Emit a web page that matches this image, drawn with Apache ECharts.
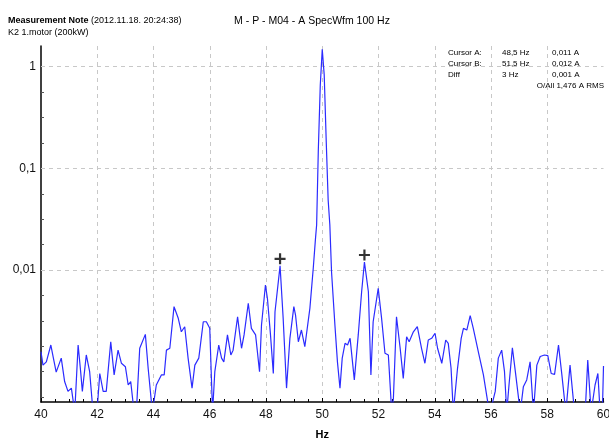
<!DOCTYPE html>
<html>
<head>
<meta charset="utf-8">
<script src="https://cdn.jsdelivr.net/npm/echarts@6/dist/echarts.min.js"></script>
<style>
  html, body { margin: 0; padding: 0; background: #fff; }
  #chart { width: 609px; height: 441px; }
</style>
</head>
<body>
<div id="chart"></div>
<script>
// spectrum: frequency (Hz) and amplitude (A RMS)
const freqs = [
  40.0, 40.07, 40.19, 40.35, 40.43, 40.54, 40.72, 40.84, 40.96, 41.08,
  41.2, 41.32, 41.41, 41.47, 41.61, 41.73, 41.85, 41.99, 42.09, 42.21,
  42.32, 42.48, 42.6, 42.74, 42.86, 43.0, 43.1, 43.19, 43.31, 43.39,
  43.51, 43.71, 43.81, 43.96, 44.1, 44.28, 44.38, 44.46, 44.58, 44.73,
  44.88, 44.99, 45.11, 45.23, 45.37, 45.47, 45.61, 45.77, 45.88, 46.0,
  46.1, 46.18, 46.32, 46.42, 46.5, 46.63, 46.75, 46.83, 46.99, 47.04,
  47.13, 47.22, 47.37, 47.48, 47.63, 47.77, 47.84, 47.98, 48.05, 48.16,
  48.26, 48.32, 48.5, 48.61, 48.73, 48.85, 48.99, 49.05, 49.15, 49.26,
  49.38, 49.56, 49.68, 49.76, 49.8, 49.86, 49.93, 50.0, 50.07, 50.14,
  50.21, 50.27, 50.33, 50.45, 50.54, 50.63, 50.71, 50.81, 50.9, 50.99,
  51.14, 51.28, 51.4, 51.5, 51.64, 51.73, 51.81, 51.99, 52.11, 52.23,
  52.35, 52.47, 52.53, 52.64, 52.77, 52.88, 53.0, 53.09, 53.24, 53.38,
  53.53, 53.65, 53.77, 53.89, 54.01, 54.1, 54.25, 54.39, 54.48, 54.58,
  54.66, 54.81, 54.94, 55.02, 55.14, 55.26, 55.37, 55.55, 55.73, 55.88,
  55.97, 56.15, 56.26, 56.38, 56.48, 56.56, 56.64, 56.76, 56.88, 57.04,
  57.15, 57.27, 57.39, 57.51, 57.63, 57.75, 57.9, 58.02, 58.14, 58.26,
  58.4, 58.52, 58.66, 58.81, 58.97, 59.35, 59.44, 59.56, 59.7, 59.8,
  59.88, 59.96, 60.0
];
const amps = [
  0.00157, 0.00116, 0.00125, 0.00183, 0.00141, 0.00099, 0.00136, 0.0008, 0.00064, 0.00069,
  0.0004, 0.00183, 0.001, 0.00064, 0.00146, 0.001, 0.0004, 0.0004, 0.00096, 0.00064,
  0.00064, 0.00197, 0.00093, 0.00163, 0.00121, 0.00112, 0.00074, 0.0008, 0.0004, 0.0004,
  0.0017, 0.00233, 0.00108, 0.0004, 0.00074, 0.00093, 0.00093, 0.00163, 0.0017, 0.00436,
  0.00335, 0.00247, 0.00277, 0.00136, 0.00069, 0.00116, 0.00136, 0.0031, 0.0031, 0.00267,
  0.0004, 0.001, 0.00183, 0.00136, 0.00125, 0.0023, 0.00146, 0.00163, 0.00347, 0.00267,
  0.0017, 0.0023, 0.00471, 0.00267, 0.0023, 0.001, 0.00288, 0.00712, 0.00527, 0.0023,
  0.00096, 0.00389, 0.011, 0.00335, 0.00069, 0.00213, 0.00436, 0.00361, 0.00197, 0.00257,
  0.00176, 0.0042, 0.0104, 0.0205, 0.0277, 0.151, 0.66, 1.48, 0.826, 0.19,
  0.0488, 0.0277, 0.0096, 0.00288, 0.00125, 0.00069, 0.00136, 0.0019, 0.00183, 0.00213,
  0.00083, 0.0023, 0.00612, 0.012, 0.00612, 0.00093, 0.0031, 0.0066, 0.00335, 0.00152,
  0.00146, 0.0004, 0.00055, 0.00347, 0.0017, 0.00086, 0.00221, 0.00197, 0.00247, 0.00277,
  0.0017, 0.00121, 0.00205, 0.00213, 0.00239, 0.0017, 0.00121, 0.00205, 0.0019, 0.00108,
  0.0004, 0.00108, 0.00213, 0.00267, 0.00257, 0.00356, 0.00267, 0.00157, 0.00093, 0.00051,
  0.0004, 0.00064, 0.00136, 0.00163, 0.001, 0.0004, 0.00074, 0.00172, 0.00093, 0.0004,
  0.00071, 0.00083, 0.00125, 0.0004, 0.00116, 0.00141, 0.00146, 0.00144, 0.00096, 0.00094,
  0.00183, 0.00093, 0.0004, 0.00116, 0.0004, 0.0004, 0.0013, 0.0004, 0.00074, 0.00096,
  0.0004, 0.0004, 0.00114
];

const cursorFreqs = [48.5, 51.5];
const cursorAmps = [0.011, 0.012];

const yTickValues = [0.01, 0.1, 1];
const yTickLabels = ['0,01', '0,1', '1'];

const cursorRows = [
  ['Cursor A:', '48,5 Hz', '0,011 A'],
  ['Cursor B:', '51,5 Hz', '0,012 A'],
  ['Diff', '3 Hz', '0,001 A']
];
const overallText = 'O/All 1,476 A RMS';

const chart = echarts.init(document.getElementById('chart'), null, { renderer: 'canvas' });

const yMin = -3.298, yMax = 0.2035; // log10 range of the plot
const lg = v => Math.log10(v);

// quarter-decade ticks on the log axis
const yMinorTicks = [];
for (let d = -4; d <= 0; d++) {
  for (let q = 0; q < 4; q++) {
    const t = d + q * 0.25;
    if (t > yMin && t < yMax) yMinorTicks.push(t);
  }
}

const FONT = '"Liberation Sans", Arial, sans-serif';

const texts = [
  {
    type: 'text', left: 8, top: 16,
    style: {
      text: '{b|Measurement Note} (2012.11.18. 20:24:38)',
      font: '9px ' + FONT, fill: '#000',
      rich: { b: { fontWeight: 'bold', fontSize: 9, fontFamily: FONT } }
    }
  },
  { type: 'text', left: 8, top: 28, style: { text: 'K2 1.motor (200kW)', font: '9px ' + FONT, fill: '#000' } }
];
const colX = [448, 502, 552];
cursorRows.forEach((row, r) => {
  row.forEach((cell, c) => {
    texts.push({ type: 'text', left: colX[c], top: 49 + r * 11, style: { text: cell, font: '8px ' + FONT, fill: '#000' } });
  });
});
texts.push({ type: 'text', right: 5, top: 82, style: { text: overallText, font: '8px ' + FONT, fill: '#000' } });

chart.setOption({
  animation: false,
  backgroundColor: '#fff',
  title: {
    text: 'M - P - M04 - A SpecWfm 100 Hz',
    left: 307, top: 11, textAlign: 'center',
    textStyle: { fontFamily: FONT, fontSize: 10.5, fontWeight: 'normal', color: '#000' }
  },
  graphic: texts,
  grid: { left: 41, right: 5.5, top: 46, bottom: 39, containLabel: false, outerBoundsMode: 'none' },
  xAxis: {
    type: 'value',
    min: 40, max: 60, interval: 2,
    name: 'Hz', nameLocation: 'middle', nameGap: 27,
    nameTextStyle: { fontFamily: FONT, fontSize: 11, fontWeight: 'bold', color: '#000' },
    axisLine: { onZero: false, lineStyle: { color: '#000', width: 1.5 } },
    axisTick: { inside: true, length: 4, lineStyle: { color: '#000' } },
    minorTick: { show: true, splitNumber: 4, length: 3, lineStyle: { color: '#000' } },
    axisLabel: { fontFamily: FONT, fontSize: 12, color: '#111', margin: 7 },
    splitLine: { show: true, showMinLine: false, showMaxLine: false, lineStyle: { color: '#c8c8c8', type: [4, 4] } }
  },
  yAxis: {
    type: 'value',
    min: yMin, max: yMax,
    name: '{a|A}  {r|RMS}', nameLocation: 'middle', nameGap: 24,
    nameTextStyle: {
      rich: {
        a: { fontFamily: FONT, fontSize: 12, fontWeight: 'bold', color: '#000' },
        r: { fontFamily: FONT, fontSize: 11, color: '#000' }
      }
    },
    axisLine: { show: true, onZero: false, lineStyle: { color: '#000', width: 1.5 } },
    axisTick: { show: true, inside: true, length: 3, customValues: yMinorTicks, lineStyle: { color: '#555' } },
    axisLabel: {
      customValues: yTickValues.map(lg),
      fontFamily: FONT, fontSize: 12, color: '#111', margin: 5,
      formatter: v => {
        const i = yTickValues.findIndex(t => Math.abs(lg(t) - v) < 1e-6);
        return i >= 0 ? yTickLabels[i] : '';
      }
    },
    splitLine: { show: false }
  },
  series: [
    {
      type: 'line',
      data: freqs.map((f, i) => [f, lg(amps[i])]),
      showSymbol: false,
      clip: true,
      lineStyle: { color: '#2b2bff', width: 1.2 },
      silent: true,
      markLine: {
        silent: true, symbol: 'none', z: 1,
        label: { show: false },
        lineStyle: { color: '#c8c8c8', type: [4, 4], width: 1 },
        data: yTickValues.map(v => ({ yAxis: lg(v) }))
      }
    },
    {
      type: 'scatter',
      data: cursorFreqs.map((f, i) => [f, lg(cursorAmps[i])]),
      symbol: 'path://M4,0H6V4H10V6H6V10H4V6H0V4H4Z',
      symbolSize: 11,
      symbolOffset: [0, -7],
      itemStyle: { color: '#000' },
      silent: true,
      z: 5
    }
  ]
});
</script>
</body>
</html>
